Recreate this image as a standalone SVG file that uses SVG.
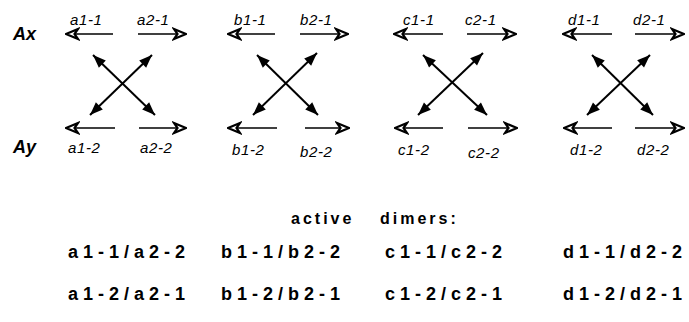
<svg xmlns="http://www.w3.org/2000/svg" width="689" height="322" viewBox="0 0 689 322">
<defs>
<style>
.lbl{font-family:"Liberation Sans",Arial,sans-serif;font-style:italic;font-size:15px;letter-spacing:0.6px;fill:#000}
.axis{font-family:"Liberation Sans",Arial,sans-serif;font-style:italic;font-weight:bold;font-size:18px;fill:#000}
.dim{font-family:"Liberation Sans",Arial,sans-serif;font-weight:bold;font-size:18px;letter-spacing:5px;fill:#000}
.hd{font-family:"Liberation Sans",Arial,sans-serif;font-weight:bold;font-size:16px;letter-spacing:3px;fill:#000}
.sh{stroke:#000;stroke-width:1.6;fill:none}
.x{stroke:#000;stroke-width:2;fill:none}
</style>
<marker id="open" viewBox="-14 -7 15 14" refX="0" refY="0" markerWidth="15" markerHeight="14" markerUnits="userSpaceOnUse" orient="auto-start-reverse">
<path d="M-12,-5 L0,0 L-12,5 L-8.5,0 Z" fill="#fff" stroke="#000" stroke-width="2.2" stroke-linejoin="miter"/>
</marker>
<marker id="solid" viewBox="-14 -7 15 14" refX="0" refY="0" markerWidth="15" markerHeight="14" markerUnits="userSpaceOnUse" orient="auto-start-reverse">
<path d="M-13,-5 L0,0 L-13,5 Z" fill="#000"/>
</marker>
</defs>
<rect width="689" height="322" fill="#fff"/>
<text class="axis" x="13" y="40">Ax</text>
<text class="axis" x="13" y="153">Ay</text>

<g id="group-a">
<text class="lbl" x="70" y="25">a1-1</text>
<text class="lbl" x="137" y="25">a2-1</text>
<text class="lbl" x="68" y="153">a1-2</text>
<text class="lbl" x="140" y="153">a2-2</text>
</g>
<g id="group-b" transform="translate(162,0)">
<text class="lbl" x="72" y="25">b1-1</text>
<text class="lbl" x="138" y="25">b2-1</text>
<text class="lbl" x="70" y="155">b1-2</text>
<text class="lbl" x="138" y="157">b2-2</text>
</g>
<g id="group-c" transform="translate(328,0)">
<text class="lbl" x="75" y="25">c1-1</text>
<text class="lbl" x="137" y="25">c2-1</text>
<text class="lbl" x="70" y="155">c1-2</text>
<text class="lbl" x="140" y="158">c2-2</text>
</g>
<g id="group-d" transform="translate(497,0)">
<text class="lbl" x="71" y="25">d1-1</text>
<text class="lbl" x="136" y="25">d2-1</text>
<text class="lbl" x="73" y="155">d1-2</text>
<text class="lbl" x="140" y="155">d2-2</text>
</g>

<g id="connectors">
<g id="conn-a">
<line class="sh" x1="113" y1="34" x2="66" y2="34" marker-end="url(#open)"/>
<line class="sh" x1="138" y1="34" x2="186" y2="34" marker-end="url(#open)"/>
<line class="sh" x1="115" y1="128" x2="66" y2="128" marker-end="url(#open)"/>
<line class="sh" x1="139" y1="128" x2="186" y2="128" marker-end="url(#open)"/>
<line class="x" x1="93" y1="55" x2="155" y2="115" marker-start="url(#solid)" marker-end="url(#solid)"/>
<line class="x" x1="152" y1="55" x2="90" y2="115" marker-start="url(#solid)" marker-end="url(#solid)"/>
</g>
<g id="conn-b" transform="translate(162,0)">
<line class="sh" x1="113" y1="34" x2="66" y2="34" marker-end="url(#open)"/>
<line class="sh" x1="138" y1="34" x2="186" y2="34" marker-end="url(#open)"/>
<line class="sh" x1="115" y1="128" x2="66" y2="128" marker-end="url(#open)"/>
<line class="sh" x1="143" y1="128" x2="187" y2="128" marker-end="url(#open)"/>
<line class="x" x1="95" y1="55" x2="156" y2="115" marker-start="url(#solid)" marker-end="url(#solid)"/>
<line class="x" x1="155" y1="53" x2="91" y2="115" marker-start="url(#solid)" marker-end="url(#solid)"/>
</g>
<g id="conn-c" transform="translate(328,0)">
<line class="sh" x1="115" y1="34" x2="66" y2="34" marker-end="url(#open)"/>
<line class="sh" x1="139" y1="34" x2="188" y2="34" marker-end="url(#open)"/>
<line class="sh" x1="115" y1="128" x2="67" y2="128" marker-end="url(#open)"/>
<line class="sh" x1="140" y1="128" x2="189" y2="128" marker-end="url(#open)"/>
<line class="x" x1="95" y1="55" x2="159" y2="115" marker-start="url(#solid)" marker-end="url(#solid)"/>
<line class="x" x1="155" y1="53" x2="90" y2="115" marker-start="url(#solid)" marker-end="url(#solid)"/>
</g>
<g id="conn-d" transform="translate(497,0)">
<line class="sh" x1="115" y1="34" x2="66" y2="34" marker-end="url(#open)"/>
<line class="sh" x1="138" y1="34" x2="187" y2="34" marker-end="url(#open)"/>
<line class="sh" x1="115" y1="128" x2="67" y2="128" marker-end="url(#open)"/>
<line class="sh" x1="138" y1="128" x2="187" y2="128" marker-end="url(#open)"/>
<line class="x" x1="95" y1="55" x2="156" y2="115" marker-start="url(#solid)" marker-end="url(#solid)"/>
<line class="x" x1="153" y1="55" x2="90" y2="115" marker-start="url(#solid)" marker-end="url(#solid)"/>
</g>
</g>

<g id="dimers">
<text class="hd" x="291" y="224">active</text>
<text class="hd" x="380" y="224">dimers:</text>
<text class="dim" x="68" y="258">a1-1/a2-2</text>
<text class="dim" x="221" y="258">b1-1/b2-2</text>
<text class="dim" x="385" y="258">c1-1/c2-2</text>
<text class="dim" x="563" y="258">d1-1/d2-2</text>
<text class="dim" x="68" y="300">a1-2/a2-1</text>
<text class="dim" x="221" y="300">b1-2/b2-1</text>
<text class="dim" x="385" y="300">c1-2/c2-1</text>
<text class="dim" x="563" y="300">d1-2/d2-1</text>
</g>
</svg>
